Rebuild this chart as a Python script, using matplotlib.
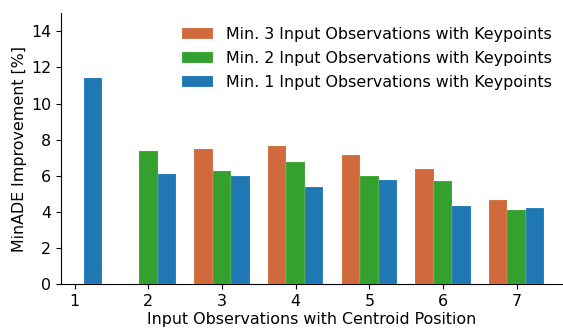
import matplotlib

matplotlib.use("Agg")
import matplotlib.pyplot as plt
import numpy as np

ORANGE = "#d06a3c"
GREEN = "#34a02d"
BLUE = "#1f77b4"

positions = [1, 2, 3, 4, 5, 6, 7]
min3 = [np.nan, np.nan, 7.5, 7.65, 7.15, 6.4, 4.65]
min2 = [np.nan, 7.4, 6.25, 6.75, 6.0, 5.7, 4.1]
min1 = [11.4, 6.1, 6.0, 5.4, 5.75, 4.35, 4.2]
labels = [
    "Min. 3 Input Observations with Keypoints",
    "Min. 2 Input Observations with Keypoints",
    "Min. 1 Input Observations with Keypoints",
]

plt.rcParams.update({"font.size": 11.4})

fig = plt.figure(figsize=(5.63, 3.31), dpi=100)
ax = fig.add_axes([0.108, 0.141, 0.892, 0.819])

x = np.array(positions, dtype=float)
w = 0.25
for off, vals, col, lab in zip([-w, 0, w], [min3, min2, min1],
                               [ORANGE, GREEN, BLUE], labels):
    ax.bar(x + off, vals, width=w, color=col, label=lab,
           edgecolor=(1, 1, 1, 0.35), linewidth=0.3)

ax.set_xlim(0.81, 7.63)
ax.set_ylim(0, 15)
ax.set_xticks(positions)
ax.set_yticks(range(0, 15, 2))
ax.spines["top"].set_visible(False)
ax.spines["right"].set_visible(False)
ax.set_xlabel("Input Observations with Centroid Position", labelpad=2)
ax.set_ylabel("MinADE Improvement [%]", labelpad=3)
ax.legend(loc="upper right", bbox_to_anchor=(1.006, 1.0), frameon=False,
          handlelength=2.0, borderaxespad=0.5, labelspacing=0.55)

fig.savefig("out.png", dpi=100)
